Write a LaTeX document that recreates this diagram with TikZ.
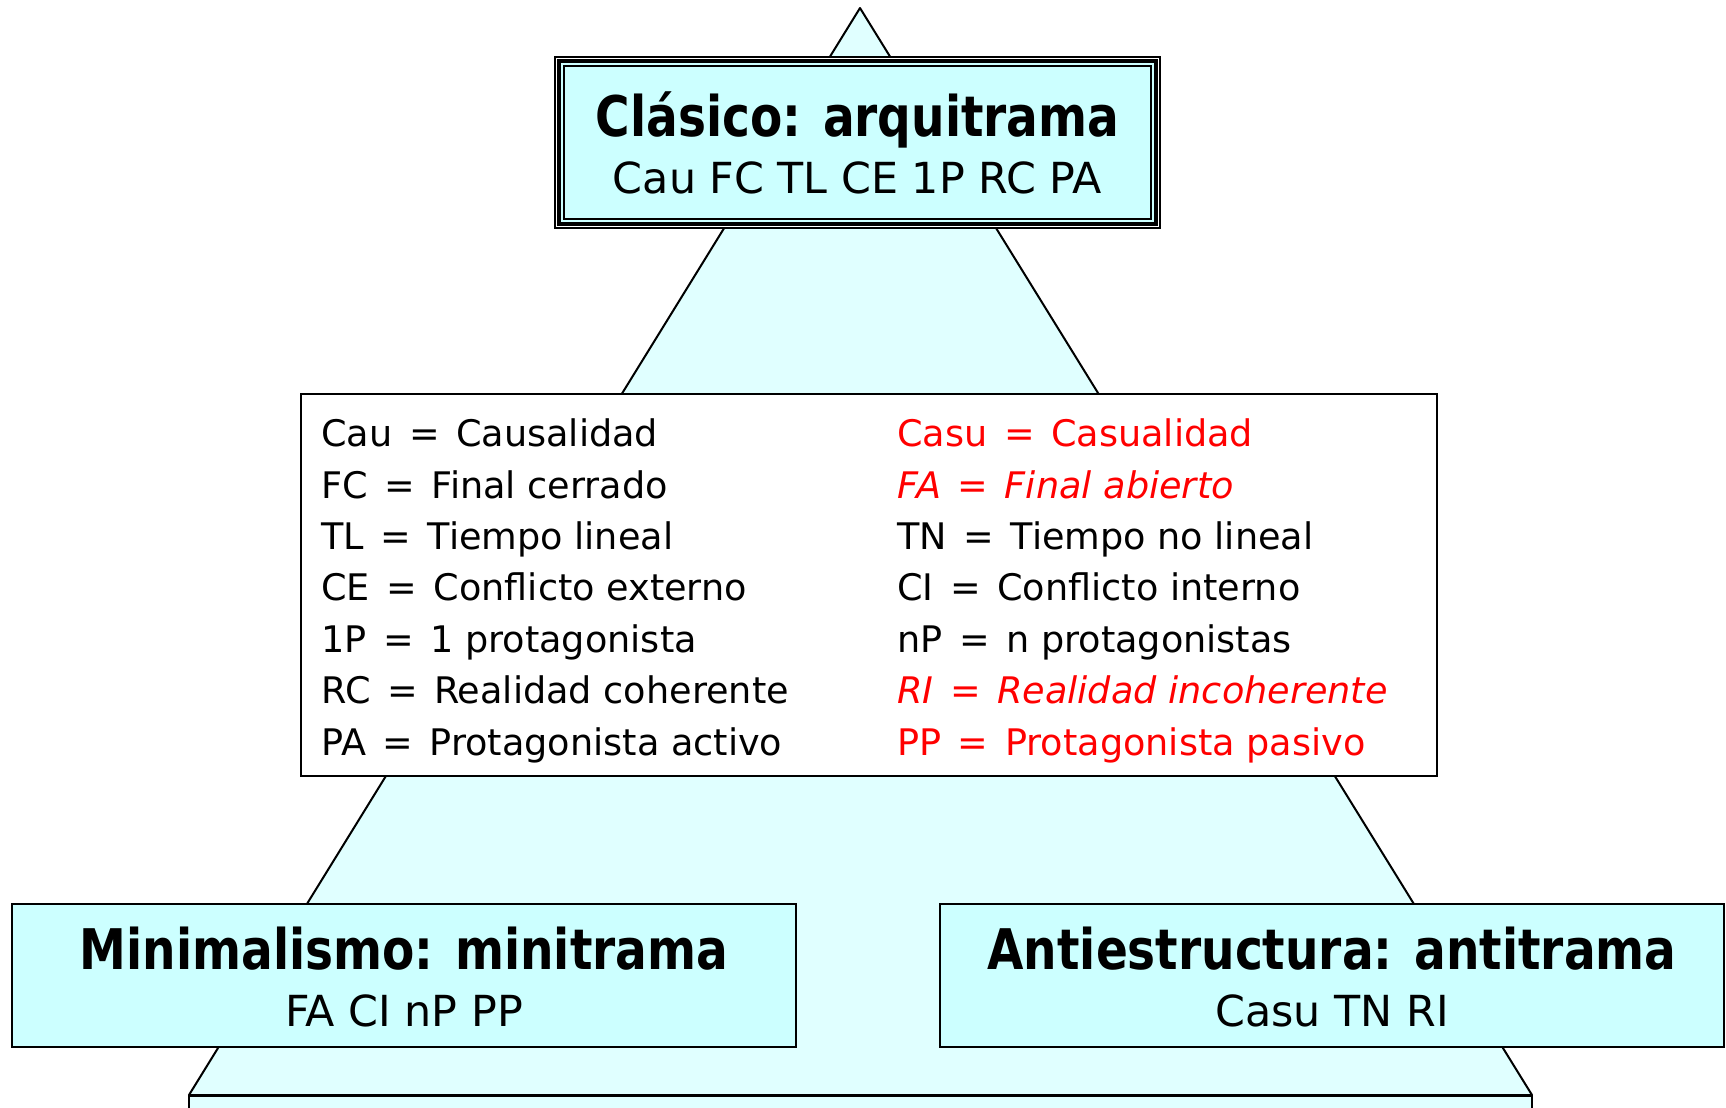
\documentclass[tikz,border=0pt]{standalone}
\usepackage{fontspec}
\setmainfont{DejaVu Sans}[BoldFeatures={FakeStretch=0.84}]
\usetikzlibrary{calc}
\definecolor{trifill}{HTML}{E0FFFF}
\definecolor{boxfill}{HTML}{CCFFFF}
\definecolor{defred}{HTML}{FF0000}
\newcommand{\igual}{\hspace{0.45em}=\hspace{0.45em}}
\tikzset{
	plotbox/.style={draw, fill=boxfill, line width=1.1pt, inner sep=0pt, minimum width=392pt, minimum height=71.5pt},
	legtext/.style={anchor=base west, inner sep=0pt, font=\fontsize{18.3}{22}\selectfont},
	titletext/.style={anchor=base, inner sep=0pt, font=\fontsize{28}{32}\selectfont\bfseries},
	subtext/.style={anchor=base, inner sep=0pt, font=\fontsize{21.4}{25}\selectfont}
}

\begin{document}
\begin{tikzpicture}[x=0.5pt, y=-0.5pt]
		\path[use as bounding box, fill=white] (0,0) rectangle (1726,1108);
		\clip (0,0) rectangle (1726,1108);
		\coordinate (apex) at (860,8);
		\coordinate (baseL) at (189,1095);
		\coordinate (baseR) at (1532,1095);
		\filldraw[fill=trifill, line width=1pt, line join=round] (apex) -- (baseL) -- (baseR) -- cycle;
		\node[draw, fill=trifill, line width=1pt, inner sep=0pt, minimum width=671.5pt, minimum height=40pt, anchor=north] (pie) at (860.5,1095) {};

		\node[draw, fill=white, line width=1pt, inner sep=0pt, minimum width=568pt, minimum height=191pt] (leyenda) at (868.5,585) {};
		\foreach \txt [count=\i from 0] in {Cau\igual Causalidad, FC\igual Final cerrado, TL\igual Tiempo lineal, CE\igual Conflicto externo, 1P\igual 1 protagonista, RC\igual Realidad coherente, PA\igual Protagonista activo}
			\node[legtext] (izq\i) at (321,{446.7+51.4*\i}) {\txt};
		\foreach \txt [count=\i from 0] in {{\color{defred}Casu\igual Casualidad}, {\color{defred}\itshape FA\igual Final abierto}, TN\igual Tiempo no lineal, CI\igual Conflicto interno, nP\igual n protagonistas, {\color{defred}\itshape RI\igual Realidad incoherente}, {\color{defred}PP\igual Protagonista pasivo}}
			\node[legtext] (der\i) at (897,{446.7+51.4*\i}) {\txt};

		\node[draw, fill=white, line width=0.75pt, inner sep=0pt, minimum width=302.5pt, minimum height=85.5pt] (clasico) at (857.5,142.5) {};
		\draw[line width=2pt, fill=boxfill] ($(clasico.north west)+(5,5)$) rectangle ($(clasico.south east)+(-5,-5)$);
		\draw[line width=1pt] ($(clasico.north west)+(10,10)$) rectangle ($(clasico.south east)+(-10,-10)$);
		\node[titletext] (clasicoT) at (857.5,136) {Clásico: arquitrama};
		\node[subtext] (clasicoS) at (857.5,193) {Cau FC TL CE 1P RC PA};

		\node[plotbox] (minimal) at (404,975.4) {};
		\node[titletext] (minimalT) at (404,969) {Minimalismo: minitrama};
		\node[subtext] (minimalS) at (404,1026) {FA CI nP PP};

		\node[plotbox] (anti) at (1332,975.4) {};
		\node[titletext] (antiT) at (1332,969) {Antiestructura: antitrama};
		\node[subtext] (antiS) at (1332,1026) {Casu TN RI};
	\end{tikzpicture}
\end{document}
